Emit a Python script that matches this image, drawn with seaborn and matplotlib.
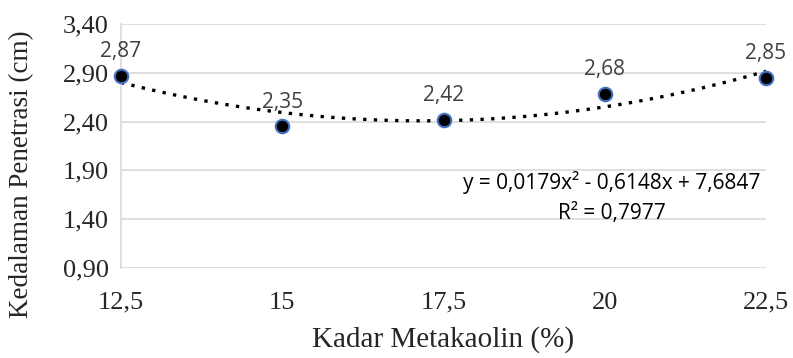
import numpy as np
import pandas as pd
import matplotlib
matplotlib.use("Agg")
import matplotlib.pyplot as plt
import seaborn as sns
from matplotlib.ticker import FuncFormatter

kadar = [12.5, 15, 17.5, 20, 22.5]
penetrasi = [2.87, 2.35, 2.42, 2.68, 2.85]
yticks = [0.90, 1.40, 1.90, 2.40, 2.90, 3.40]
xticks = [12.5, 15, 17.5, 20, 22.5]

df = pd.DataFrame({"kadar": kadar, "penetrasi": penetrasi})

sns.set_style("white")
plt.rcParams['font.family'] = ['Liberation Serif', 'DejaVu Serif']

fig = plt.figure(figsize=(7.93, 3.58), dpi=100)
ax = fig.add_axes([0.1526, 0.2514, 0.8134, 0.6816])

# trendline (polynomial order 2)
sns.regplot(data=df, x="kadar", y="penetrasi", order=2, ci=None, scatter=False,
            truncate=True, ax=ax,
            line_kws=dict(color="black", linestyle=(0, (1, 2.2)), linewidth=2.4))

sns.scatterplot(data=df, x="kadar", y="penetrasi", ax=ax, s=95, color="black",
                edgecolor="#4472C4", linewidth=1.5, zorder=5, clip_on=False)

for x, y in zip(kadar, penetrasi):
    ax.annotate(f"{y:.2f}".replace(".", ","), (x, y), xytext=(0, 10),
                textcoords="offset points", ha="center", va="bottom",
                fontsize=15, color="#404040", family=["Open Sans", "DejaVu Sans"])

ax.text(0.761, 0.288, "y = 0,0179x² - 0,6148x + 7,6847\nR² = 0,7977",
        transform=ax.transAxes, ha="center", va="center", fontsize=15,
        color="black", family=["Open Sans", "DejaVu Sans"], linespacing=1.55)

ax.set_xlim(12.5, 22.5)
ax.set_ylim(0.90, 3.40)
ax.set_xticks(xticks)
ax.set_yticks(yticks)
ax.xaxis.set_major_formatter(FuncFormatter(lambda v, p: (f"{v:g}").replace(".", ",")))
ax.yaxis.set_major_formatter(FuncFormatter(lambda v, p: f"{v:.2f}".replace(".", ",")))
ax.tick_params(axis="both", length=0, labelsize=19)
ax.tick_params(axis="y", pad=9)
ax.tick_params(axis="x", pad=17)

ax.grid(axis="y", color="#d9d9d9", linewidth=1.2)
ax.set_axisbelow(True)
for side in ["top", "right", "bottom"]:
    ax.spines[side].set_visible(False)
ax.spines["left"].set_color("#d9d9d9")
ax.spines["left"].set_linewidth(1.2)

ax.set_xlabel("Kadar Metakaolin (%)", fontsize=21, labelpad=9)
ax.set_ylabel("Kedalaman Penetrasi (cm)", fontsize=19.5)
ax.yaxis.set_label_coords(-0.134, 0.385)

fig.savefig("out.png", dpi=100)
